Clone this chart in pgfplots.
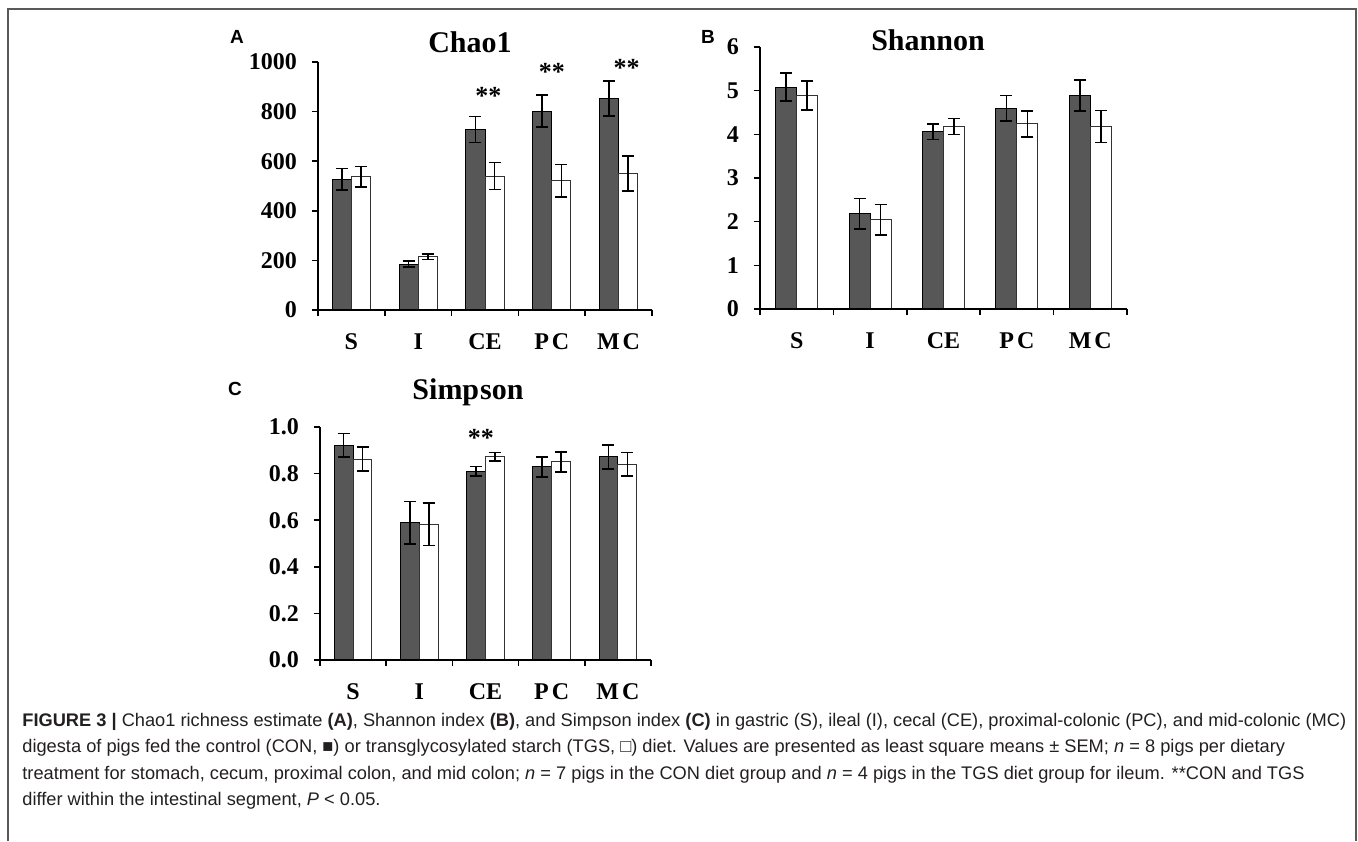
\documentclass[border=0pt]{standalone}
\usepackage{fontspec}
\setmainfont{Liberation Serif}
\newfontfamily\capfont{Liberation Sans}
\usepackage{pgfplots}
\pgfplotsset{compat=1.18}
\definecolor{darkbar}{HTML}{575757}
\definecolor{captxt}{HTML}{231F20}

\pgfplotsset{
  panel/.style={
    scale only axis,
    axis on top,
    axis lines*=left,
    axis line style={line width=0.9pt},
    xmin=-0.5, xmax=4.5, ymin=0,
    xtick={-0.5,0.5,1.5,2.5,3.5,4.5},
    xticklabels={},
    extra x ticks={0,1,2,3,4},
    extra x tick labels={S,I,CE,P\kern1.5pt C,M\kern1.5pt C},
    extra x tick style={major tick length=0pt},
    tick align=outside,
    major tick length=3pt,
    tick style={line width=0.8pt, black},
    ticklabel style={font=\bfseries\fontsize{12}{12}\selectfont},
    xticklabel style={yshift=-8.5pt},
    yticklabel style={xshift=-4pt},
    /pgf/number format/assume math mode=true,
    /pgf/number format/1000 sep={},
    scaled y ticks=false,
    clip=false,
  },
  conbar/.style={ybar, bar width=0.285, bar shift=0pt, fill=darkbar, draw=black, line width=0.5pt,
    error bars/.cd, y dir=both, y explicit,
    error bar style={line width=0.8pt, black},
    error mark options={rotate=90, mark size=3pt, line width=0.8pt, black}},
  tgsbar/.style={ybar, bar width=0.285, bar shift=0pt, fill=white, draw=black!80, line width=0.5pt,
    error bars/.cd, y dir=both, y explicit,
    error bar style={line width=0.8pt, black},
    error mark options={rotate=90, mark size=3pt, line width=0.8pt, black}},
}

\begin{document}
\begin{tikzpicture}
\path[use as bounding box] (0,0) rectangle (679pt,-420.5pt);
\draw[black!65, line width=1pt] (4pt,-420.5pt) -- (4pt,-4.5pt) -- (678pt,-4.5pt) -- (678pt,-420.5pt);

% ---------- Panel A: Chao1 ----------
\begin{axis}[panel, at={(159pt,-155pt)}, anchor=south west, width=167pt, height=124pt,
  ymax=1000, ytick={0,200,...,1000}]
\addplot[conbar] coordinates {(-0.1425,527) +- (0,43) (0.8575,185) +- (0,12) (1.8575,728) +- (0,52) (2.8575,802) +- (0,64) (3.8575,853) +- (0,70)};
\addplot[tgsbar] coordinates {(0.1425,537) +- (0,42) (1.1425,215) +- (0,11) (2.1425,540) +- (0,54) (3.1425,521) +- (0,66) (4.1425,551) +- (0,71)};
\node[font=\bfseries\fontsize{13}{13}\selectfont] at (axis cs:2.05,865) {**};
\node[font=\bfseries\fontsize{13}{13}\selectfont] at (axis cs:3.0,960) {**};
\node[font=\bfseries\fontsize{13}{13}\selectfont] at (axis cs:4.12,978) {**};
\end{axis}

% ---------- Panel B: Shannon ----------
\begin{axis}[panel, at={(380pt,-154.5pt)}, anchor=south west, width=183.5pt, height=131pt,
  ymax=6, ytick={0,1,...,6}]
\addplot[conbar] coordinates {(-0.1425,5.08) +- (0,0.32) (0.8575,2.18) +- (0,0.35) (1.8575,4.06) +- (0,0.18) (2.8575,4.60) +- (0,0.29) (3.8575,4.89) +- (0,0.36)};
\addplot[tgsbar] coordinates {(0.1425,4.89) +- (0,0.33) (1.1425,2.04) +- (0,0.35) (2.1425,4.18) +- (0,0.18) (3.1425,4.24) +- (0,0.30) (4.1425,4.18) +- (0,0.37)};
\end{axis}

% ---------- Panel C: Simpson ----------
\begin{axis}[panel, at={(160pt,-330pt)}, anchor=south west, width=165.5pt, height=116.5pt,
  ymax=1.0, ytick={0,0.2,...,1.0},
  yticklabel style={/pgf/number format/.cd, fixed, fixed zerofill, precision=1}]
\addplot[conbar] coordinates {(-0.1425,0.922) +- (0,0.05) (0.8575,0.589) +- (0,0.092) (1.8575,0.811) +- (0,0.02) (2.8575,0.829) +- (0,0.043) (3.8575,0.872) +- (0,0.052)};
\addplot[tgsbar] coordinates {(0.1425,0.862) +- (0,0.052) (1.1425,0.582) +- (0,0.091) (2.1425,0.872) +- (0,0.019) (3.1425,0.850) +- (0,0.042) (4.1425,0.840) +- (0,0.051)};
\node[font=\bfseries\fontsize{13}{13}\selectfont] at (axis cs:1.93,0.955) {**};
\end{axis}

% ---------- titles and panel letters ----------
\node[font=\bfseries\fontsize{15}{15}\selectfont] at (235pt,-21pt) {Chao1};
\node[font=\bfseries\fontsize{15}{15}\selectfont] at (464pt,-20pt) {Shannon};
\node[font=\bfseries\fontsize{15}{15}\selectfont] at (234pt,-196pt) {Simp\kern0.5pt son};
\node[font=\capfont\bfseries\fontsize{9.5}{9.5}\selectfont] at (118.5pt,-18.5pt) {A};
\node[font=\capfont\bfseries\fontsize{9.5}{9.5}\selectfont] at (354pt,-18.5pt) {B};
\node[font=\capfont\bfseries\fontsize{9.5}{9.5}\selectfont] at (117.5pt,-194.5pt) {C};

% ---------- caption ----------
\begin{scope}[every node/.style={anchor=base west, inner sep=0pt, text=captxt, font=\capfont\fontsize{9.12}{9.12}\selectfont}]
\node at (11pt,-363pt) {\textbf{FIGURE 3 |} Chao1 richness estimate \textbf{(A)}, Shannon index \textbf{(B)}, and Simpson index \textbf{(C)} in gastric (S), ileal (I), cecal (CE), proximal-colonic (PC), and mid-colonic (MC)};
\node at (11pt,-376.3pt) {digesta of pigs fed the control (CON, ■) or transglycosylated starch (TGS, □) diet. Values are presented as least square means ± SEM; \textit{n} = 8 pigs per dietary};
\node at (11pt,-389.6pt) {treatment for stomach, cecum, proximal colon, and mid colon; \textit{n} = 7 pigs in the CON diet group and \textit{n} = 4 pigs in the TGS diet group for ileum. **CON and TGS};
\node at (11pt,-402.9pt) {differ within the intestinal segment, \textit{P} < 0.05.};
\end{scope}
\end{tikzpicture}
\end{document}
